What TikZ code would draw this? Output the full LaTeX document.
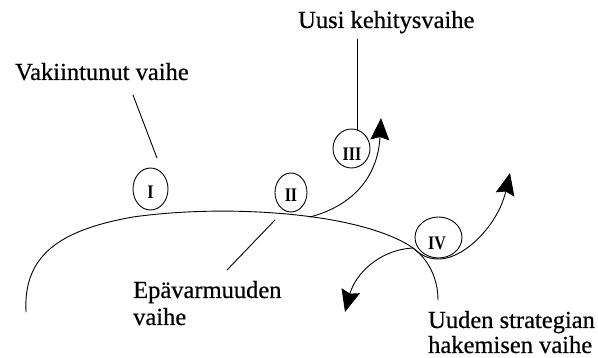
\documentclass[tikz,border=0pt]{standalone}
\usepackage{fontspec}
\setmainfont{Liberation Serif}
\newfontfamily\scanfont[FakeBold=0.5]{Liberation Serif}
\usetikzlibrary{arrows.meta,shapes.geometric}
\begin{document}
\begin{tikzpicture}[x=1pt,y=-1pt,
  line/.style={line width=0.9pt, line cap=round},
  lbl/.style={inner sep=0pt, anchor=base west, font=\scanfont\fontsize{24.5}{26}\selectfont},
  phase/.style={draw, ellipse, line width=0.9pt, inner sep=0pt},
  numeral/.style={inner sep=0pt, font=\fontsize{16}{16}\selectfont\bfseries},
  head/.style={-{Stealth[length=22pt,width=19pt,inset=3pt]}}]
\useasboundingbox (0,0) rectangle (598,358);

% labels
\node[lbl] (vak) at (15,80) {Vakiintunut vaihe};
\node[lbl] (uusi) at (298,28) {Uusi kehitysvaihe};
\node[lbl] (epa1) at (133,298) {Epävarmuuden};
\node[lbl] (epa2) at (133,325) {vaihe};
\node[lbl] (uud1) at (428,328) {Uuden strategian};
\node[lbl] (uud2) at (428,353) {hakemisen vaihe};

% phase ellipses
\node[phase, minimum width=35pt, minimum height=42pt] (c1) at (150.5,189) {};
\node[phase, minimum width=32pt, minimum height=39pt] (c2) at (291,192.5) {};
\node[phase, minimum width=37pt, minimum height=39pt] (c3) at (351.5,148.5) {};
\node[phase, minimum width=47pt, minimum height=41pt] (c4) at (438.5,237.5) {};
\node[numeral] (n1) at (150.5,192) {\scalebox{1}[1.2]{I}};
\node[numeral] (n2) at (291,195) {\scalebox{1}[1.2]{II}};
\node[numeral] (n3) at (352,154) {\scalebox{1}[1.2]{III}};
\node[numeral] (n4) at (437,243.5) {\scalebox{1}[1.2]{IV}};

% leader line endpoints
\coordinate (v1) at (133,95);
\coordinate (v2) at (157,158);
\coordinate (u1) at (357,39);
\coordinate (u2) at (357,130);
\coordinate (e1) at (275,220);
\coordinate (e2) at (227,270);
\draw[line] (v1) -- (v2);
\draw[line] (u1) -- (u2);
\draw[line] (e1) -- (e2);

% main curve
\coordinate (m0) at (26,312);
\coordinate (m1) at (133,217);
\coordinate (m2) at (320,218);
\coordinate (p) at (413,248);
\coordinate (m4) at (438,300);
\draw[line] (m0) .. controls (23,255) and (60,230) .. (m1)
  .. controls (190,209) and (260,209) .. (m2)
  .. controls (360,224) and (395,235) .. (p)
  .. controls (428,259) and (438,278) .. (m4);

% arrow III
\coordinate (a3s) at (310,217);
\coordinate (a3t) at (381,118);
\draw[line, head] (a3s) .. controls (355,205) and (378,175) .. (a3t);

% arrows at IV
\coordinate (a4t) at (510,173);
\coordinate (a4m) at (440,259);
\coordinate (a5t) at (345,312);
\draw[line, head] (p) .. controls (422,256) and (428,259) .. (a4m)
  .. controls (465,258) and (498,225) .. (a4t);
\draw[line, head] (p) .. controls (378,250) and (355,275) .. (a5t);
\end{tikzpicture}
\end{document}
